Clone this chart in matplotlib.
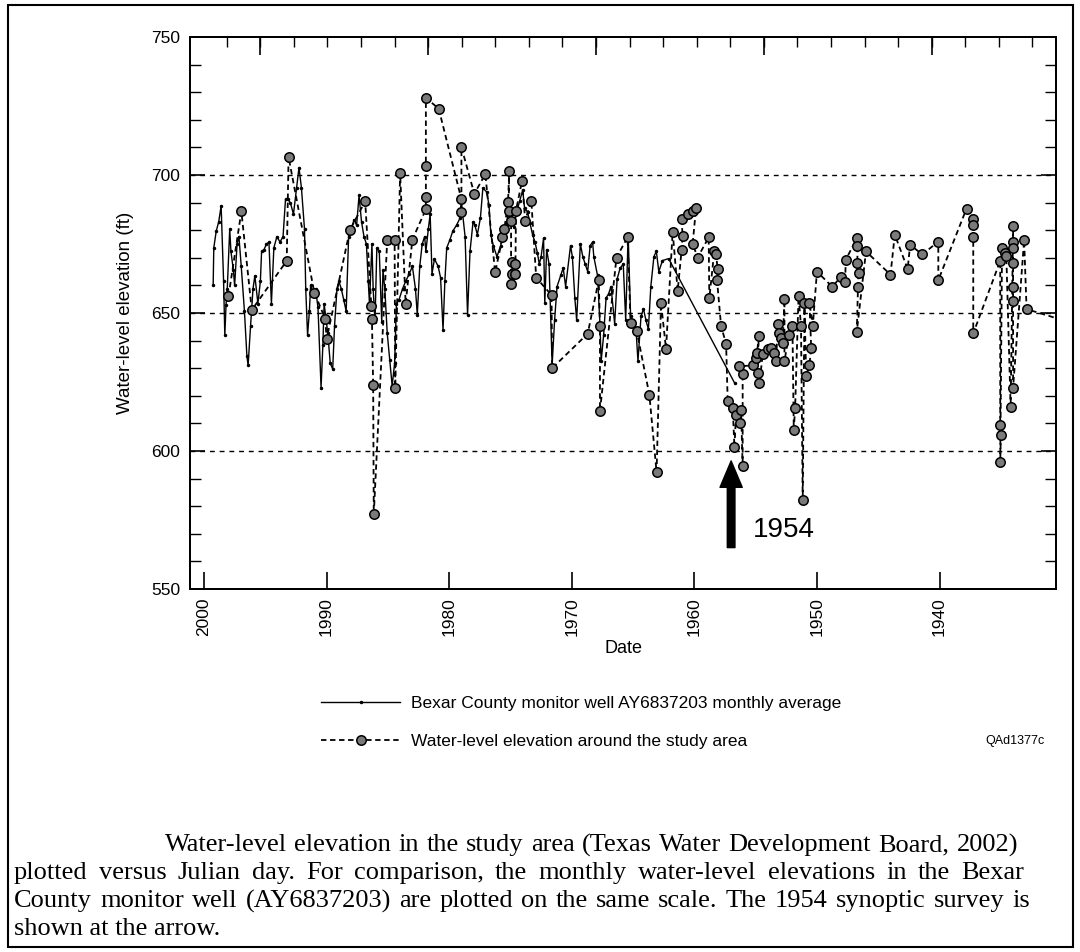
import matplotlib
matplotlib.use("Agg")
import matplotlib.pyplot as plt
from matplotlib.patches import Rectangle
from matplotlib.ticker import FixedLocator, MultipleLocator

# Bexar County monitor well AY6837203, monthly average (year, ft)
mw_year = [1999.25, 1999.2, 1999.0, 1998.8, 1998.6, 1998.4, 1998.3, 1998.2, 1998.1, 1997.9,
           1997.8, 1997.6, 1997.5, 1997.3, 1997.15, 1996.96, 1996.7, 1996.5, 1996.4, 1996.2,
           1996.0, 1995.85, 1995.6, 1995.4, 1995.3, 1995.1, 1994.9, 1994.7, 1994.5, 1994.3,
           1994.05, 1993.8, 1993.55, 1993.35, 1993.15, 1992.95, 1992.7, 1992.45, 1992.25, 1992.05,
           1991.8, 1991.7, 1991.55, 1991.4, 1991.3, 1991.05, 1990.9, 1990.7, 1990.45, 1990.3,
           1990.2, 1990.05, 1989.9, 1989.7, 1989.5, 1989.35, 1989.15, 1989.0, 1988.8, 1988.6,
           1988.4, 1988.2, 1988.0, 1987.75, 1987.55, 1987.35, 1987.15, 1986.95, 1986.75, 1986.6,
           1986.5, 1986.3, 1986.2, 1986.05, 1985.9, 1985.7, 1985.5, 1985.4, 1985.25, 1985.05,
           1984.85, 1984.65, 1984.45, 1984.3, 1984.1, 1983.8, 1983.55, 1983.25, 1983.0, 1982.75,
           1982.6, 1982.4, 1982.2, 1982.0, 1981.9, 1981.7, 1981.55, 1981.4, 1981.2, 1980.9,
           1980.7, 1980.5, 1980.35, 1980.2, 1979.95, 1979.7, 1979.4, 1979.1, 1978.9, 1978.7,
           1978.5, 1978.3, 1978.05, 1977.9, 1977.7, 1977.45, 1977.25, 1976.95,
           1976.75, 1976.6, 1976.4, 1976.1, 1975.8, 1975.6, 1975.3, 1975.1, 1974.9, 1974.7,
           1974.5, 1974.25, 1974.0, 1973.85, 1973.6, 1973.4, 1973.2, 1973.0, 1972.8, 1972.65,
           1972.5, 1972.3, 1972.2, 1972.05, 1971.85, 1971.6, 1971.4, 1971.2, 1970.9, 1970.7,
           1970.5, 1970.1, 1969.95, 1969.75, 1969.6, 1969.3, 1969.1, 1968.9, 1968.7, 1968.5,
           1968.3, 1968.2, 1967.9, 1967.7, 1967.6, 1967.4, 1967.2, 1967.0, 1966.8, 1966.5,
           1966.3, 1966.05, 1965.8, 1965.6, 1965.4, 1965.2, 1964.95, 1964.75, 1964.6, 1964.35,
           1964.15, 1963.95, 1963.75, 1963.55, 1963.3, 1963.1, 1962.9, 1962.6, 1962.1, 1956.7]
mw_elev = [660.1, 673.6, 679.7, 683.0, 688.8, 661.5, 641.9, 653.0, 658.8, 680.4,
           672.3, 665.5, 660.0, 675.0, 677.7, 666.9, 650.7, 634.5, 631.0, 645.3,
           658.8, 663.5, 653.4, 661.5, 672.3, 673.0, 675.0, 675.7, 653.4, 673.6,
           677.7, 675.7, 677.7, 691.2, 691.2, 689.9, 685.8, 695.3, 702.7, 695.3,
           680.4, 658.8, 641.9, 650.7, 660.1, 656.1, 658.8, 652.0, 623.0, 638.5,
           653.4, 648.0, 642.6, 631.8, 629.7, 645.3, 658.8, 661.5, 658.8, 654.7,
           650.7, 677.7, 680.4, 683.8, 681.8, 692.6, 683.1, 677.7, 675.0, 661.5,
           653.4, 675.0, 658.8, 646.6, 673.6, 672.3, 646.6, 665.5, 658.8, 642.6,
           633.1, 623.6, 631.8, 653.4, 654.7, 658.8, 661.5, 664.2, 666.9, 658.8,
           649.3, 666.9, 675.0, 677.7, 672.3, 680.4, 685.8, 664.2, 669.6, 666.9,
           662.8, 643.9, 661.5, 673.6, 676.4, 679.7, 681.8, 684.5, 685.8, 677.7,
           649.3, 672.3, 683.1, 681.8, 678.4, 684.5, 695.3, 693.9,
           689.2, 678.4, 674.4, 670.4, 674.4, 678.4, 682.5, 690.6, 686.5, 681.1,
           686.5, 690.6, 694.6, 687.9, 686.5, 682.5, 678.4, 675.7, 671.7, 667.7,
           670.4, 677.1, 653.5, 673.0, 667.7, 631.3, 647.4, 659.6, 663.6, 666.3,
           659.6, 674.4, 670.4, 655.5, 647.4, 675.1, 670.4, 667.7, 665.0, 674.4,
           675.7, 670.4, 663.6, 646.1, 632.6, 642.0, 655.5, 656.9, 659.6, 646.1,
           662.3, 666.3, 667.7, 647.4, 678.4, 648.8, 646.1, 643.4, 632.6, 648.8,
           651.5, 647.4, 644.1, 659.6, 670.4, 672.4, 665.0, 669.0, 669.7, 624.5]

# water-level elevation around the study area (year, ft), in drawing order
sa_year = [1998.0, 1996.95, 1996.1, 1993.25, 1993.1, 1991.0, 1990.1, 1990.0, 1988.1, 1986.85,
           1986.35, 1986.3, 1986.2, 1986.15, 1985.05, 1984.45, 1984.4, 1984.0, 1983.55, 1983.0,
           1981.9, 1981.9, 1981.9, 1981.9, 1980.85, 1979.0, 1979.0, 1979.0, 1977.95, 1977.05,
           1976.25, 1975.65, 1975.5, 1975.2, 1975.1, 1975.15, 1974.95, 1974.95, 1974.85, 1974.85,
           1974.6, 1974.6, 1974.55, 1974.05, 1973.8, 1973.3, 1972.9, 1971.65, 1971.6, 1968.7,
           1967.8, 1967.7, 1967.7, 1966.35, 1965.45, 1965.2, 1964.7, 1963.67, 1963.08, 1962.72,
           1962.31, 1961.77, 1961.36, 1961.04, 1960.96, 1961.04, 1960.49, 1960.14, 1959.86, 1960.14,
           1959.73, 1958.83, 1958.78, 1958.37, 1958.23, 1958.1, 1958.15, 1957.82, 1957.41, 1957.28,
           1956.87, 1956.73, 1956.6, 1956.24, 1956.19, 1956.06, 1956.06, 1956.33, 1955.24, 1954.96,
           1954.88, 1954.75, 1954.83, 1954.69, 1954.42, 1954.02, 1953.74, 1953.47, 1953.33, 1953.2,
           1953.06, 1952.92, 1952.79, 1952.65, 1952.65, 1952.3, 1952.0, 1951.89, 1951.78, 1951.5,
           1951.3, 1951.16, 1951.02, 1950.88, 1950.61, 1950.47, 1950.61, 1950.34, 1950.0, 1948.75,
           1948.05, 1947.7, 1947.65, 1946.75, 1946.7, 1946.7, 1946.6, 1946.65, 1946.75, 1946.0,
           1944.0, 1943.65, 1942.6, 1942.4, 1941.4, 1940.1, 1940.1, 1937.8, 1937.25, 1937.25,
           1937.25, 1937.25, 1935.05, 1935.05, 1935.0, 1935.05, 1934.9, 1934.7, 1934.55, 1934.2,
           1934.0, 1934.0, 1934.0, 1934.0, 1934.0, 1934.0, 1934.0, 1933.1, 1932.9, 1930.6]
sa_elev = [656.1, 686.8, 651.1, 668.9, 706.5, 657.4, 647.8, 640.5, 680.0, 690.5,
           652.7, 648.0, 624.0, 577.0, 676.6, 676.6, 623.0, 700.7, 653.4, 676.6,
           687.6, 692.2, 703.4, 728.0, 724.0, 691.2, 686.5, 710.1, 693.2, 700.3,
           664.7, 677.4, 680.4, 690.1, 701.4, 687.1, 683.5, 660.6, 664.1, 668.3,
           667.9, 664.1, 687.1, 698.0, 683.5, 690.7, 662.8, 656.5, 630.0, 642.5,
           661.9, 645.3, 614.4, 670.1, 677.4, 646.5, 643.5, 620.4, 592.3, 653.7,
           637.0, 679.5, 658.0, 672.8, 678.0, 684.1, 685.9, 687.1, 688.1, 675.0,
           670.1, 677.4, 655.3, 672.5, 671.3, 665.9, 661.9, 645.3, 638.8, 618.0,
           615.6, 601.3, 613.2, 610.1, 615.0, 594.4, 627.9, 630.7, 631.0, 633.7,
           635.6, 641.6, 628.3, 624.7, 635.0, 636.8, 637.4, 635.6, 632.5, 645.9,
           642.8, 641.0, 639.2, 655.0, 632.5, 641.9, 645.3, 607.7, 615.6, 656.1,
           645.3, 582.3, 653.7, 627.0, 631.3, 637.4, 653.7, 645.3, 665.0, 659.5,
           663.1, 661.2, 669.3, 677.0, 674.3, 668.2, 664.6, 659.5, 643.2, 672.3,
           663.9, 678.4, 665.9, 674.7, 671.2, 675.9, 661.9, 687.8, 684.2, 681.8,
           677.4, 642.6, 668.9, 609.5, 605.7, 596.0, 673.4, 671.6, 670.5, 615.8,
           681.5, 675.7, 673.6, 668.2, 659.5, 654.3, 623.0, 676.4, 651.4, 648.3]

ref_levels = [600, 650, 700]
year_ticks = [2000, 1990, 1980, 1970, 1960, 1950, 1940]
survey_year = 1957.0   # where the 1954 arrow sits on this axis

caption = ['Water-level elevation in the study area (Texas Water Development Board, 2002)',
           'plotted versus Julian day. For comparison, the monthly water-level elevations in the Bexar',
           'County monitor well (AY6837203) are plotted on the same scale. The 1954 synoptic survey is',
           'shown at the arrow.']

sans = ['Liberation Sans', 'DejaVu Sans']
narrow = ['Liberation Sans Narrow', 'Liberation Sans', 'DejaVu Sans']
serif = ['Liberation Serif', 'DejaVu Serif']
plt.rcParams['font.family'] = sans

W, H = 1080, 952
fig = plt.figure(figsize=(W/100, H/100), dpi=100)
ax = fig.add_axes([190/W, 1 - 589/H, (1056 - 190)/W, (589 - 37)/H])

for lev in ref_levels:
    ax.axhline(lev, color='black', lw=1.0, ls=(0, (3.5, 3.5)), zorder=1)

ax.plot(mw_year, mw_elev, color='black', lw=1.0, marker='.', ms=3,
        label='Bexar County monitor well AY6837203 monthly average', zorder=3)
ax.plot(sa_year, sa_elev, color='black', lw=1.3, ls=(0, (3, 2)), marker='o', ms=6.8,
        mfc='#7a7a7a', mec='black', mew=1.1, markevery=list(range(len(sa_year) - 1)),
        label='Water-level elevation around the study area', zorder=4)

ax.annotate('', xy=(survey_year, 596.4), xytext=(survey_year, 565),
            arrowprops=dict(facecolor='black', edgecolor='black', width=5.5,
                            headwidth=16, headlength=19, shrink=0))
ax.text(1955.2, 571.5, '1954', fontsize=20, ha='left', va='center')

ax.set_xlim(2001.14, 1930.5)
ax.set_ylim(550, 750)
ax.set_xticks(year_ticks)
ax.set_xticklabels([str(y) for y in year_ticks], rotation=90, fontsize=12.5)
ax.yaxis.set_major_locator(MultipleLocator(50))
ax.yaxis.set_minor_locator(MultipleLocator(10))
ax.tick_params(axis='y', which='both', direction='in', right=True, labelsize=12.5, pad=7)
ax.tick_params(axis='y', which='major', length=11, width=1.2)
ax.tick_params(axis='y', which='minor', length=8, width=1.0)
ax.tick_params(axis='x', which='major', direction='in', length=12, width=1.2, pad=6, top=False)

# top axis: Julian-day ticks every 1000 days, longer every 5000
ax2 = ax.twiny()
ax2.set_xlim(ax.get_xlim())
jd_major = [1995.4 - 13.69 * k for k in range(5)]
jd_minor = [1998.14 - 2.738 * k for k in range(26)]
ax2.xaxis.set_major_locator(FixedLocator(jd_major))
ax2.xaxis.set_minor_locator(FixedLocator(jd_minor))
ax2.tick_params(axis='x', which='both', direction='in', labeltop=False)
ax2.tick_params(axis='x', which='major', length=13, width=1.2)
ax2.tick_params(axis='x', which='minor', length=7, width=1.0)

for a in (ax, ax2):
    for s in a.spines.values():
        s.set_linewidth(1.4)

ax.set_xlabel('Date', fontsize=13, labelpad=3)
ax.set_ylabel('Water-level elevation (ft)', fontsize=13.5, labelpad=12)

h, l = ax.get_legend_handles_labels()
fig.legend(h, l, loc='upper left', bbox_to_anchor=(305/W, 1 - 680/H), frameon=False,
           handlelength=4.6, handletextpad=0.6, labelspacing=1.35,
           prop=dict(family=narrow, size=12.5))
fig.text(985/W, 1 - 741/H, 'QAd1377c', fontsize=9, family=narrow, va='center')

# caption, lines 1-3 justified to the right edge as in the printed page
renderer = fig.canvas.get_renderer()
cap_size = 19
cap_left = [165, 14, 14, 14]
cap_right = [1018, 1024, 1030, None]
cap_y = [845, 873, 901, 929]
for line, x0, x1, y in zip(caption, cap_left, cap_right, cap_y):
    if x1 is None:
        fig.text(x0/W, 1 - y/H, line, fontsize=cap_size, family=serif, va='center')
        continue
    words = line.split(' ')
    texts = [fig.text(0, 1 - y/H, w, fontsize=cap_size, family=serif, va='center') for w in words]
    widths = [t.get_window_extent(renderer).width for t in texts]
    gap = (x1 - x0 - sum(widths)) / (len(words) - 1)
    x = x0
    for t, w in zip(texts, widths):
        t.set_x(x/W)
        x += w + gap

fig.patches.append(Rectangle((8/W, 5/H), (1073 - 8)/W, (947 - 5)/H,
                             transform=fig.transFigure, fill=False, lw=1.5, ec='black'))

fig.savefig('out.png', dpi=100)
